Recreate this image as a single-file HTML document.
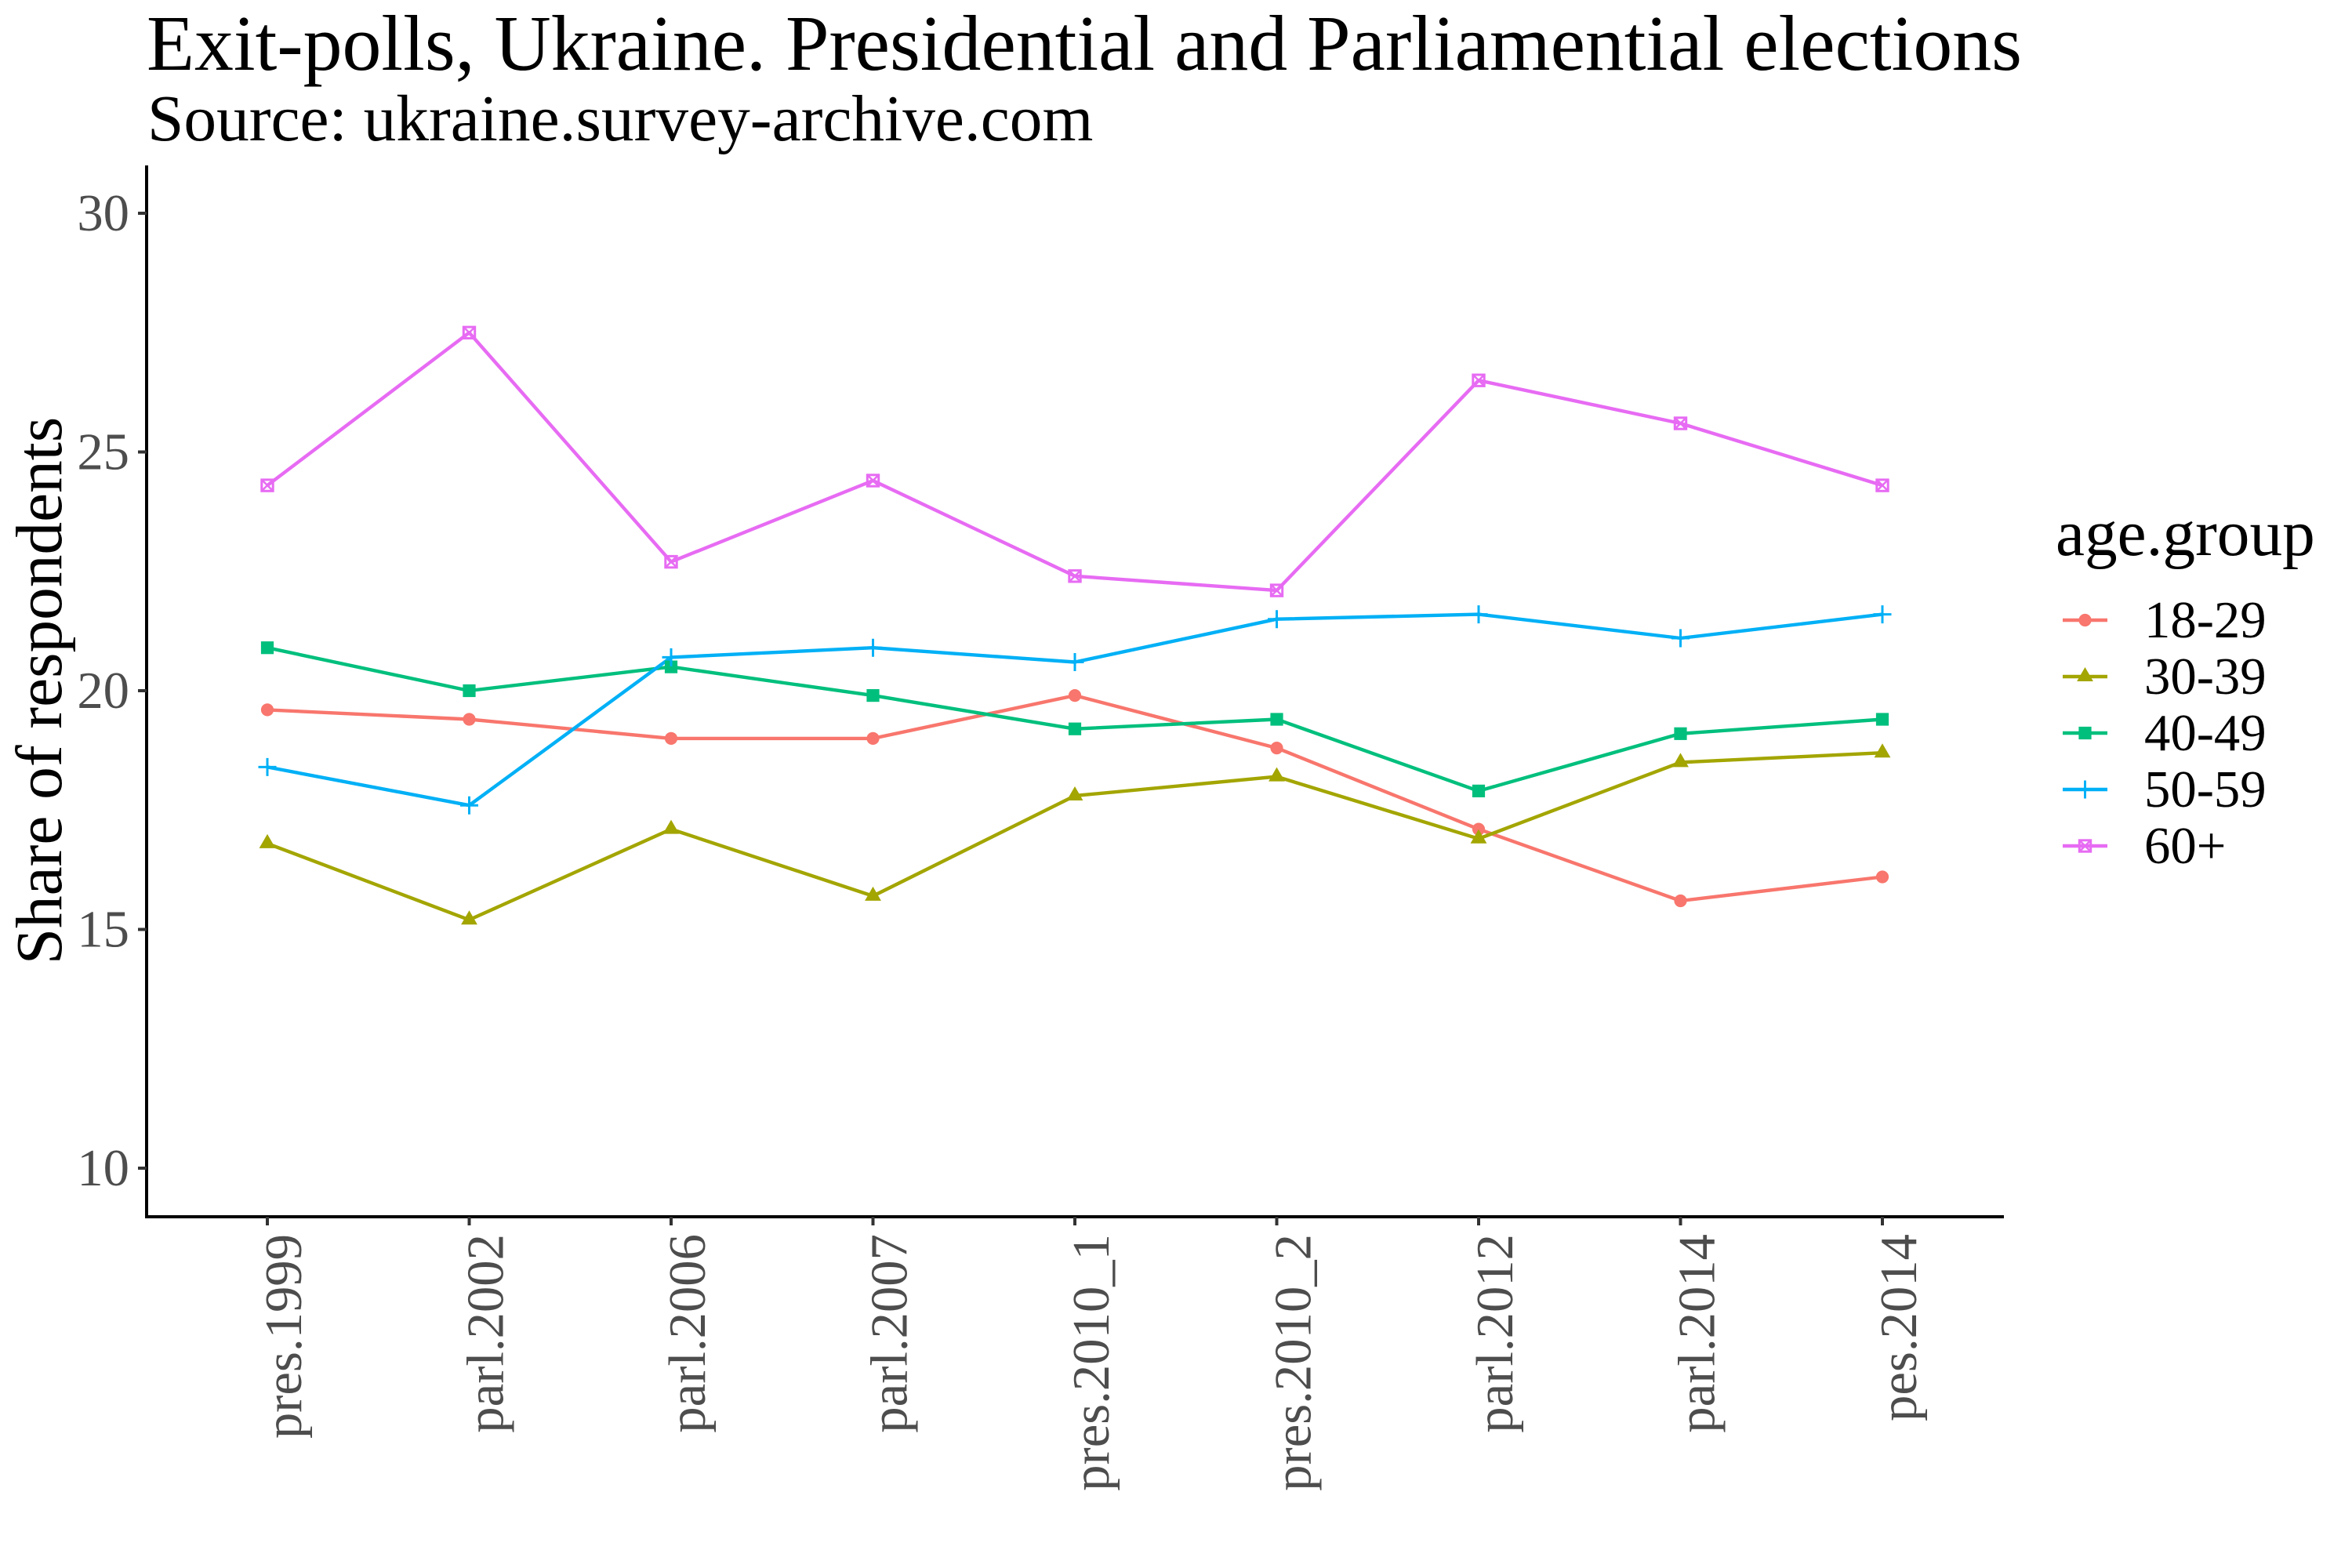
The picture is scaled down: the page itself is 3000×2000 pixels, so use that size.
<!DOCTYPE html>
<html>
<head>
<meta charset="utf-8">
<style>
  html, body { margin: 0; padding: 0; background: #ffffff; }
  svg { display: block; }
  text { font-family: "Liberation Serif", "Times New Roman", serif; }
</style>
</head>
<body>
<svg width="3000" height="2000" viewBox="0 0 3000 2000" xmlns="http://www.w3.org/2000/svg">
  <rect x="0" y="0" width="3000" height="2000" fill="#ffffff"/>
  <defs>
    <g id="m1"><circle cx="0" cy="0" r="8.1" fill="#F8766D"/></g>
    <g id="m2"><path d="M0,-12 L10.4,6 L-10.4,6 Z" fill="#A3A500"/></g>
    <g id="m3"><rect x="-8.1" y="-8.1" width="16.2" height="16.2" fill="#00BF7D"/></g>
    <g id="m4"><path d="M-11.5,0 L11.5,0 M0,-11.5 L0,11.5" stroke="#00B0F6" stroke-width="3" fill="none"/></g>
    <g id="m5"><rect x="-7.2" y="-7.2" width="14.4" height="14.4" stroke="#E76BF3" stroke-width="3" fill="none"/><path d="M-7.2,-7.2 L7.2,7.2 M7.2,-7.2 L-7.2,7.2" stroke="#E76BF3" stroke-width="2.5" fill="none"/></g>
  </defs>

  <text x="187" y="89" font-size="101" fill="#000000" textLength="2392" lengthAdjust="spacingAndGlyphs">Exit-polls, Ukraine. Presidential and Parliamential elections</text>
  <text x="188" y="179" font-size="83.4" fill="#000000">Source: ukraine.survey-archive.com</text>

  <text transform="translate(78,881) rotate(-90)" text-anchor="middle" font-size="83.3" fill="#000000">Share of respondents</text>

  <line x1="187" y1="211" x2="187" y2="1554" stroke="#000000" stroke-width="4"/>
  <line x1="185" y1="1552" x2="2556" y2="1552" stroke="#000000" stroke-width="4"/>

  <g stroke="#333333" stroke-width="4">
    <line x1="176" y1="272" x2="187" y2="272"/>
    <line x1="176" y1="576.5" x2="187" y2="576.5"/>
    <line x1="176" y1="881" x2="187" y2="881"/>
    <line x1="176" y1="1185.5" x2="187" y2="1185.5"/>
    <line x1="176" y1="1490" x2="187" y2="1490"/>
  </g>
  <g font-size="66.7" fill="#4D4D4D" text-anchor="end">
    <text x="165" y="294">30</text>
    <text x="165" y="598.5">25</text>
    <text x="165" y="903">20</text>
    <text x="165" y="1207.5">15</text>
    <text x="165" y="1512">10</text>
  </g>

  <g stroke="#333333" stroke-width="4">
    <line x1="341" y1="1552" x2="341" y2="1563"/>
    <line x1="598.5" y1="1552" x2="598.5" y2="1563"/>
    <line x1="856" y1="1552" x2="856" y2="1563"/>
    <line x1="1113.5" y1="1552" x2="1113.5" y2="1563"/>
    <line x1="1371" y1="1552" x2="1371" y2="1563"/>
    <line x1="1628.5" y1="1552" x2="1628.5" y2="1563"/>
    <line x1="1886" y1="1552" x2="1886" y2="1563"/>
    <line x1="2143.5" y1="1552" x2="2143.5" y2="1563"/>
    <line x1="2401" y1="1552" x2="2401" y2="1563"/>
  </g>
  <g font-size="66.7" fill="#4D4D4D" text-anchor="end">
    <text transform="translate(384,1574) rotate(-90)">pres.1999</text>
    <text transform="translate(641.5,1574) rotate(-90)">parl.2002</text>
    <text transform="translate(899,1574) rotate(-90)">parl.2006</text>
    <text transform="translate(1156.5,1574) rotate(-90)">parl.2007</text>
    <text transform="translate(1414,1574) rotate(-90)">pres.2010_1</text>
    <text transform="translate(1671.5,1574) rotate(-90)">pres.2010_2</text>
    <text transform="translate(1929,1574) rotate(-90)">parl.2012</text>
    <text transform="translate(2186.5,1574) rotate(-90)">parl.2014</text>
    <text transform="translate(2444,1574) rotate(-90)">pes.2014</text>
  </g>

  <g fill="none" stroke-width="4.4" stroke-linejoin="round">
    <polyline stroke="#F8766D" points="341,905.4 598.5,917.5 856,941.9 1113.5,941.9 1371,887.1 1628.5,954.1 1886,1057.6 2143.5,1149.0 2401,1118.5"/>
    <polyline stroke="#A3A500" points="341,1075.9 598.5,1173.3 856,1057.6 1113.5,1142.9 1371,1015.0 1628.5,990.6 1886,1069.8 2143.5,972.4 2401,960.2"/>
    <polyline stroke="#00BF7D" points="341,826.2 598.5,881 856,850.6 1113.5,887.1 1371,929.7 1628.5,917.5 1886,1008.9 2143.5,935.8 2401,917.5"/>
    <polyline stroke="#00B0F6" points="341,978.4 598.5,1027.2 856,838.4 1113.5,826.2 1371,844.5 1628.5,789.7 1886,783.6 2143.5,814.0 2401,783.6"/>
    <polyline stroke="#E76BF3" points="341,619.1 598.5,424.3 856,716.6 1113.5,613.0 1371,734.8 1628.5,753.1 1886,485.2 2143.5,540.0 2401,619.1"/>
  </g>

  <use href="#m1" transform="translate(341,905.4)"/>
  <use href="#m1" transform="translate(598.5,917.5)"/>
  <use href="#m1" transform="translate(856,941.9)"/>
  <use href="#m1" transform="translate(1113.5,941.9)"/>
  <use href="#m1" transform="translate(1371,887.1)"/>
  <use href="#m1" transform="translate(1628.5,954.1)"/>
  <use href="#m1" transform="translate(1886,1057.6)"/>
  <use href="#m1" transform="translate(2143.5,1149.0)"/>
  <use href="#m1" transform="translate(2401,1118.5)"/>

  <use href="#m2" transform="translate(341,1075.9)"/>
  <use href="#m2" transform="translate(598.5,1173.3)"/>
  <use href="#m2" transform="translate(856,1057.6)"/>
  <use href="#m2" transform="translate(1113.5,1142.9)"/>
  <use href="#m2" transform="translate(1371,1015.0)"/>
  <use href="#m2" transform="translate(1628.5,990.6)"/>
  <use href="#m2" transform="translate(1886,1069.8)"/>
  <use href="#m2" transform="translate(2143.5,972.4)"/>
  <use href="#m2" transform="translate(2401,960.2)"/>

  <use href="#m3" transform="translate(341,826.2)"/>
  <use href="#m3" transform="translate(598.5,881)"/>
  <use href="#m3" transform="translate(856,850.6)"/>
  <use href="#m3" transform="translate(1113.5,887.1)"/>
  <use href="#m3" transform="translate(1371,929.7)"/>
  <use href="#m3" transform="translate(1628.5,917.5)"/>
  <use href="#m3" transform="translate(1886,1008.9)"/>
  <use href="#m3" transform="translate(2143.5,935.8)"/>
  <use href="#m3" transform="translate(2401,917.5)"/>

  <use href="#m4" transform="translate(341,978.4)"/>
  <use href="#m4" transform="translate(598.5,1027.2)"/>
  <use href="#m4" transform="translate(856,838.4)"/>
  <use href="#m4" transform="translate(1113.5,826.2)"/>
  <use href="#m4" transform="translate(1371,844.5)"/>
  <use href="#m4" transform="translate(1628.5,789.7)"/>
  <use href="#m4" transform="translate(1886,783.6)"/>
  <use href="#m4" transform="translate(2143.5,814.0)"/>
  <use href="#m4" transform="translate(2401,783.6)"/>

  <use href="#m5" transform="translate(341,619.1)"/>
  <use href="#m5" transform="translate(598.5,424.3)"/>
  <use href="#m5" transform="translate(856,716.6)"/>
  <use href="#m5" transform="translate(1113.5,613.0)"/>
  <use href="#m5" transform="translate(1371,734.8)"/>
  <use href="#m5" transform="translate(1628.5,753.1)"/>
  <use href="#m5" transform="translate(1886,485.2)"/>
  <use href="#m5" transform="translate(2143.5,540.0)"/>
  <use href="#m5" transform="translate(2401,619.1)"/>

  <text x="2622" y="708" font-size="83.3" fill="#000000">age.group</text>
  <g stroke-width="4.4">
    <line x1="2631" y1="791" x2="2688" y2="791" stroke="#F8766D"/>
    <line x1="2631" y1="863" x2="2688" y2="863" stroke="#A3A500"/>
    <line x1="2631" y1="935" x2="2688" y2="935" stroke="#00BF7D"/>
    <line x1="2631" y1="1007" x2="2688" y2="1007" stroke="#00B0F6"/>
    <line x1="2631" y1="1079" x2="2688" y2="1079" stroke="#E76BF3"/>
  </g>
  <use href="#m1" transform="translate(2659.5,791)"/>
  <use href="#m2" transform="translate(2659.5,863)"/>
  <use href="#m3" transform="translate(2659.5,935)"/>
  <use href="#m4" transform="translate(2659.5,1007)"/>
  <use href="#m5" transform="translate(2659.5,1079)"/>
  <g font-size="66.7" fill="#000000">
    <text x="2735" y="813">18-29</text>
    <text x="2735" y="885">30-39</text>
    <text x="2735" y="957">40-49</text>
    <text x="2735" y="1029">50-59</text>
    <text x="2735" y="1101">60+</text>
  </g>
</svg>
</body>
</html>
